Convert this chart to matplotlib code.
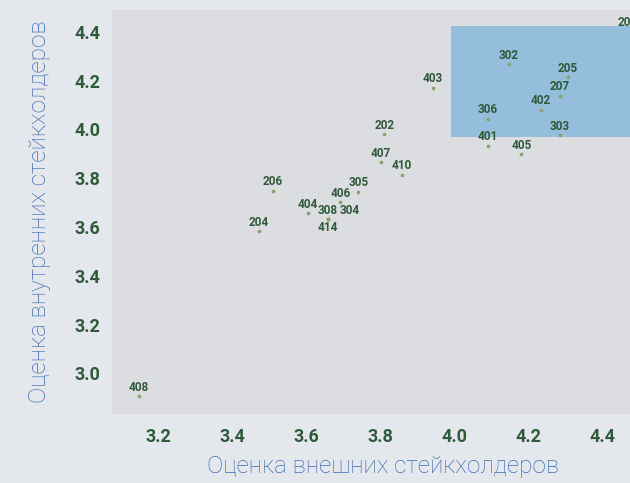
import matplotlib
matplotlib.use("Agg")
import matplotlib.pyplot as plt
from matplotlib.patches import Rectangle

# --- data ---
codes = ["302", "205", "207", "402", "306", "303", "401", "405", "403", "202",
         "407", "410", "206", "305", "406", "404", "308", "304", "414", "204",
         "408", "201"]
external = [4.146, 4.305, 4.283, 4.233, 4.089, 4.283, 4.089, 4.180, 3.941, 3.810,
            3.801, 3.858, 3.510, 3.740, 3.692, 3.604, 3.658, 3.658, 3.658, 3.471,
            3.149, 4.482]
internal = [4.266, 4.214, 4.137, 4.081, 4.043, 3.976, 3.933, 3.898, 4.171, 3.979,
            3.864, 3.814, 3.748, 3.745, 3.700, 3.656, 3.631, 3.631, 3.631, 3.583,
            2.906, 4.400]

x_ticks = [3.2, 3.4, 3.6, 3.8, 4.0, 4.2, 4.4]
y_ticks = [3.0, 3.2, 3.4, 3.6, 3.8, 4.0, 4.2, 4.4]

# highlighted zone (top-right)
zone_x0, zone_y0, zone_y1 = 3.99, 3.97, 4.425

BG = "#e4e7ec"
PANEL = "#dcdde0"
ZONE = "#94bedc"
DOT = "#8c9f6c"
DARK = "#2f5a3b"
BLUE = "#3d6fb5"

plt.rcParams["font.family"] = ["Roboto", "DejaVu Sans"]

fig = plt.figure(figsize=(6.3, 4.83), dpi=100, facecolor=BG)
# axes runs past the right edge of the picture, as in the cropped original
W, H = 630, 483
left, right, top, bottom = 111.7, 654, 9.5, 414.3
ax = fig.add_axes([left / W, 1 - bottom / H, (right - left) / W, (bottom - top) / H])
ax.set_facecolor(PANEL)

ax.add_patch(Rectangle((zone_x0, zone_y0), 1.0, zone_y1 - zone_y0,
                       facecolor=ZONE, edgecolor="none", zorder=1))

ax.scatter(external, internal, s=7, color=DOT, zorder=3, linewidths=0)

# label offsets in points (default: centered above the dot)
special = {"304": (16, 6.5), "414": (0, -6), "201": (-4, 6.5)}
for c, xv, yv in zip(codes, external, internal):
    dx, dy = special.get(c, (0, 6.5))
    ax.annotate(c, (xv, yv), xytext=(dx, dy), textcoords="offset points",
                ha="center", va="center", fontsize=8.5, fontweight="bold",
                color=DARK, zorder=4, annotation_clip=False)

ax.set_xlim(3.075, 3.2 + (right - 158) / 370.8)
ax.set_ylim(3.0 - (bottom - 373.3) / 244, 3.0 + (373.3 - top) / 244)
ax.set_xticks(x_ticks)
ax.set_yticks(y_ticks)
ax.set_xticklabels([f"{v:.1f}" for v in x_ticks])
ax.set_yticklabels([f"{v:.1f}" for v in y_ticks])
ax.tick_params(length=0, labelsize=13, labelcolor=DARK)
ax.tick_params(axis="x", pad=10)
ax.tick_params(axis="y", pad=8)
for lab in ax.get_xticklabels() + ax.get_yticklabels():
    lab.set_fontweight("bold")
for s in ax.spines.values():
    s.set_visible(False)

ax.set_xlabel("Оценка внешних стейкхолдеров", fontsize=17.5, color=BLUE,
              fontweight="light", labelpad=6)
ax.set_ylabel("Оценка внутренних стейкхолдеров", fontsize=17.5, color=BLUE,
              fontweight="light", labelpad=17)

fig.savefig("out.png", dpi=100, facecolor=BG)
